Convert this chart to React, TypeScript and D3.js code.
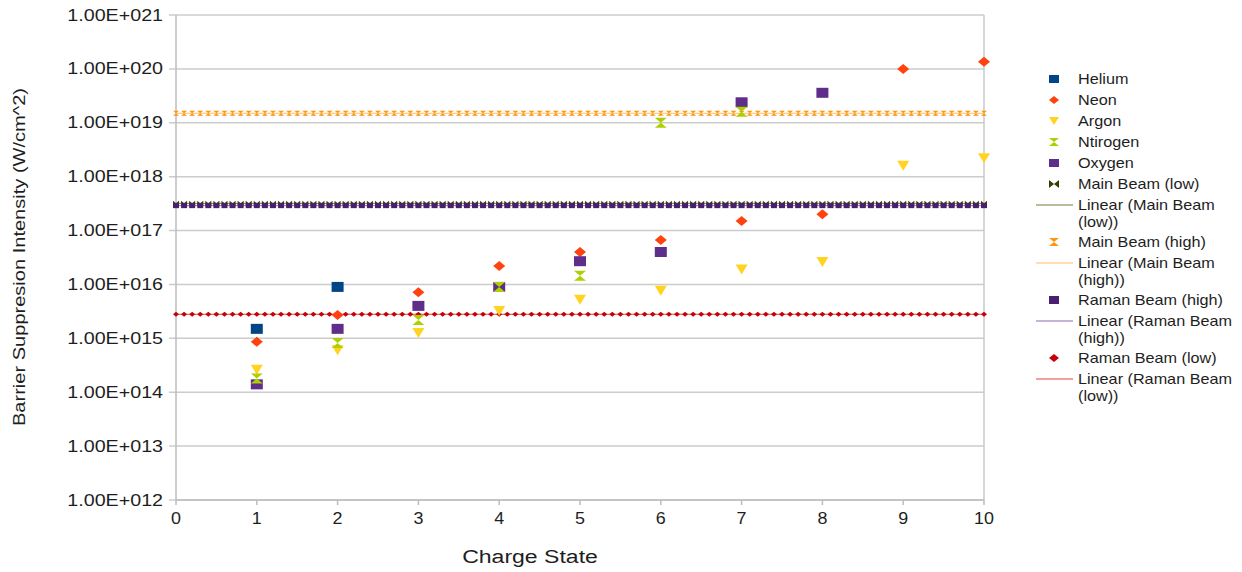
import React from "react";
import * as d3 from "d3";

const W = 1242;
const H = 572;

// Charge states for the element series
const chargeStates = [1, 2, 3, 4, 5, 6, 7, 8, 9, 10];

// Element series (null = no point)
const helium = [1.5e15, 9e15, null, null, null, null, null, null, null, null];
const neon = [8.6e14, 2.7e15, 7.2e15, 2.2e16, 4e16, 6.7e16, 1.5e17, 2e17, 1e20, 1.35e20];
const argon = [2.6e14, 6e14, 1.26e15, 3.2e15, 5.2e15, 7.6e15, 1.9e16, 2.6e16, 1.6e18, 2.2e18];
const nitrogen = [1.8e14, 8.2e14, 2.2e15, 9e15, 1.45e16, 1e19, 1.6e19, null, null, null];
const oxygen = [1.4e14, 1.5e15, 4e15, 9e15, 2.7e16, 4e16, 2.4e19, 3.6e19, null, null];

// Beam series sample positions and levels
const beamX = [
  0, 0.1, 0.2, 0.3, 0.4, 0.5, 0.6, 0.7, 0.8, 0.9,
  1, 1.1, 1.2, 1.3, 1.4, 1.5, 1.6, 1.7, 1.8, 1.9,
  2, 2.1, 2.2, 2.3, 2.4, 2.5, 2.6, 2.7, 2.8, 2.9,
  3, 3.1, 3.2, 3.3, 3.4, 3.5, 3.6, 3.7, 3.8, 3.9,
  4, 4.1, 4.2, 4.3, 4.4, 4.5, 4.6, 4.7, 4.8, 4.9,
  5, 5.1, 5.2, 5.3, 5.4, 5.5, 5.6, 5.7, 5.8, 5.9,
  6, 6.1, 6.2, 6.3, 6.4, 6.5, 6.6, 6.7, 6.8, 6.9,
  7, 7.1, 7.2, 7.3, 7.4, 7.5, 7.6, 7.7, 7.8, 7.9,
  8, 8.1, 8.2, 8.3, 8.4, 8.5, 8.6, 8.7, 8.8, 8.9,
  9, 9.1, 9.2, 9.3, 9.4, 9.5, 9.6, 9.7, 9.8, 9.9,
  10,
];
const mainBeamLow = 3.2e17;
const mainBeamHigh = 1.5e19;
const ramanBeamHigh = 2.9e17;
const ramanBeamLow = 2.8e15;

const yTickValues = [1e12, 1e13, 1e14, 1e15, 1e16, 1e17, 1e18, 1e19, 1e20, 1e21];
const xTickValues = [0, 1, 2, 3, 4, 5, 6, 7, 8, 9, 10];

const FONT = "'Liberation Sans', Arial, sans-serif";

type Shape = "square" | "diamond" | "tri" | "hourglass" | "bowtie";

function markerPath(shape: Shape, x: number, y: number, w: number, h: number): string {
  const a = w / 2;
  const b = h / 2;
  switch (shape) {
    case "square":
      return `M${x - a},${y - b}H${x + a}V${y + b}H${x - a}Z`;
    case "diamond":
      return `M${x},${y - b}L${x + a},${y}L${x},${y + b}L${x - a},${y}Z`;
    case "tri":
      return `M${x - a},${y - b}L${x + a},${y - b}L${x},${y + b}Z`;
    case "hourglass":
      return `M${x - a},${y - b}L${x + a},${y - b}L${x - a},${y + b}L${x + a},${y + b}Z`;
    case "bowtie":
      return `M${x - a},${y - b}L${x + a},${y + b}L${x + a},${y - b}L${x - a},${y + b}Z`;
  }
}

const elementSeries: { name: string; values: (number | null)[]; color: string; shape: Shape }[] = [
  { name: "Helium", values: helium, color: "#004586", shape: "square" },
  { name: "Neon", values: neon, color: "#ff420e", shape: "diamond" },
  { name: "Argon", values: argon, color: "#ffd320", shape: "tri" },
  { name: "Oxygen", values: oxygen, color: "#5f2d8a", shape: "square" },
  { name: "Ntirogen", values: nitrogen, color: "#aecf00", shape: "hourglass" },
];

const beamSeries: { name: string; level: number; color: string; lineColor: string; shape: Shape }[] = [
  { name: "Main Beam (low)", level: mainBeamLow, color: "#314004", lineColor: "#6b7f36", shape: "bowtie" },
  { name: "Main Beam (high)", level: mainBeamHigh, color: "#ff950e", lineColor: "#ffbf60", shape: "hourglass" },
  { name: "Raman Beam (high)", level: ramanBeamHigh, color: "#4b1f6f", lineColor: "#8a6aab", shape: "square" },
  { name: "Raman Beam (low)", level: ramanBeamLow, color: "#c5000b", lineColor: "#e2463c", shape: "diamond" },
];

type LegendItem =
  | { kind: "marker"; label: string[]; color: string; shape: Shape }
  | { kind: "line"; label: string[]; color: string };

const legendItems: LegendItem[] = [
  { kind: "marker", label: ["Helium"], color: "#004586", shape: "square" },
  { kind: "marker", label: ["Neon"], color: "#ff420e", shape: "diamond" },
  { kind: "marker", label: ["Argon"], color: "#ffd320", shape: "tri" },
  { kind: "marker", label: ["Ntirogen"], color: "#aecf00", shape: "hourglass" },
  { kind: "marker", label: ["Oxygen"], color: "#5f2d8a", shape: "square" },
  { kind: "marker", label: ["Main Beam (low)"], color: "#314004", shape: "bowtie" },
  { kind: "line", label: ["Linear (Main Beam", "(low))"], color: "#6b7f36" },
  { kind: "marker", label: ["Main Beam (high)"], color: "#ff950e", shape: "hourglass" },
  { kind: "line", label: ["Linear (Main Beam", "(high))"], color: "#ffbf60" },
  { kind: "marker", label: ["Raman Beam (high)"], color: "#4b1f6f", shape: "square" },
  { kind: "line", label: ["Linear (Raman Beam", "(high))"], color: "#8a6aab" },
  { kind: "marker", label: ["Raman Beam (low)"], color: "#c5000b", shape: "diamond" },
  { kind: "line", label: ["Linear (Raman Beam", "(low))"], color: "#e2463c" },
];

export default function App() {
  const left = 176;
  const right = 984;
  const top = 15;
  const bottom = 500;
  const x = d3.scaleLinear().domain([0, 10]).range([left, right]);
  const y = d3.scaleLog().domain([1e12, 1e21]).range([bottom, top]);
  const grid = "#cccccc";
  const txt = "#1e1e1e";

  const fmt = (v: number) => {
    const e = Math.round(Math.log10(v));
    return `1.00E+${String(e).padStart(3, "0")}`;
  };

  // Legend layout
  const legendRows: { item: LegendItem; y: number }[] = [];
  let ly = 79;
  legendItems.forEach((it) => {
    legendRows.push({ item: it, y: ly });
    ly += it.label.length === 2 ? 37 : 21;
  });

  return (
    <svg width={W} height={H} style={{ position: "absolute", left: 0, top: 0, background: "#fff" }}>
      <rect x={0} y={0} width={W} height={H} fill="#fff" />
      {/* gridlines */}
      {yTickValues.map((v) => (
        <line key={"g" + v} x1={left - 7} x2={right} y1={y(v)} y2={y(v)} stroke={grid} strokeWidth={1.5} />
      ))}
      {/* axes */}
      <line x1={left} x2={left} y1={top} y2={bottom} stroke="#bdbdbd" strokeWidth={1.5} />
      <line x1={right} x2={right} y1={top} y2={bottom} stroke="#c8c8c8" strokeWidth={1.5} />
      <line x1={left} x2={right} y1={bottom} y2={bottom} stroke="#bdbdbd" strokeWidth={1.5} />
      {xTickValues.map((v) => (
        <line key={"xt" + v} x1={x(v)} x2={x(v)} y1={bottom} y2={bottom + 5} stroke="#bdbdbd" strokeWidth={1.5} />
      ))}
      {/* y tick labels */}
      {yTickValues.map((v) => (
        <text
          key={"yl" + v}
          transform={`translate(163,${y(v)}) scale(1.23,1)`}
          dy="0.35em"
          textAnchor="end"
          fontFamily={FONT}
          fontSize={16}
          fill={txt}
        >
          {fmt(v)}
        </text>
      ))}
      {/* x tick labels */}
      {xTickValues.map((v) => (
        <text
          key={"xl" + v}
          transform={`translate(${x(v)},524) scale(1.12,1)`}
          textAnchor="middle"
          fontFamily={FONT}
          fontSize={16}
          fill={txt}
        >
          {v}
        </text>
      ))}
      <text
        transform="translate(530,563) scale(1.28,1)"
        textAnchor="middle"
        fontFamily={FONT}
        fontSize={18}
        fill={txt}
      >
        Charge State
      </text>
      <text
        transform={`translate(25,257) rotate(-90) scale(1.18,1)`}
        textAnchor="middle"
        fontFamily={FONT}
        fontSize={17}
        fill={txt}
      >
        Barrier Suppresion Intensity (W/cm^2)
      </text>

      {/* beam trend lines */}
      {beamSeries.map((s) => (
        <line key={"tl" + s.name} x1={x(0)} x2={x(10)} y1={y(s.level)} y2={y(s.level)} stroke={s.lineColor} strokeWidth={1} />
      ))}
      {/* beam markers */}
      {beamSeries.map((s) => (
        <g key={"bm" + s.name} fill={s.color}>
          {beamX.map((bx) => (
            <path key={bx} d={markerPath(s.shape, x(bx), y(s.level), 6, 5)} />
          ))}
        </g>
      ))}
      {/* element markers */}
      {elementSeries.map((s) => (
        <g key={"es" + s.name} fill={s.color}>
          {s.values.map((v, i) =>
            v == null ? null : (
              <path key={i} d={markerPath(s.shape, x(chargeStates[i]), y(v), 12, 10)} />
            )
          )}
        </g>
      ))}

      {/* legend */}
      {legendRows.map(({ item, y: ry }, i) => (
        <g key={"lg" + i}>
          {item.kind === "marker" ? (
            <path d={markerPath(item.shape, 1054, ry, 10, 8)} fill={item.color} />
          ) : (
            <line x1={1036} x2={1073} y1={ry} y2={ry} stroke={item.color} strokeWidth={1.2} />
          )}
          {item.label.map((t, j) => (
            <text
              key={j}
              transform={`translate(1078,${ry + j * 16.5}) scale(1.08,1)`}
              dy="0.35em"
              fontFamily={FONT}
              fontSize={15}
              fill={txt}
            >
              {t}
            </text>
          ))}
        </g>
      ))}
    </svg>
  );
}
